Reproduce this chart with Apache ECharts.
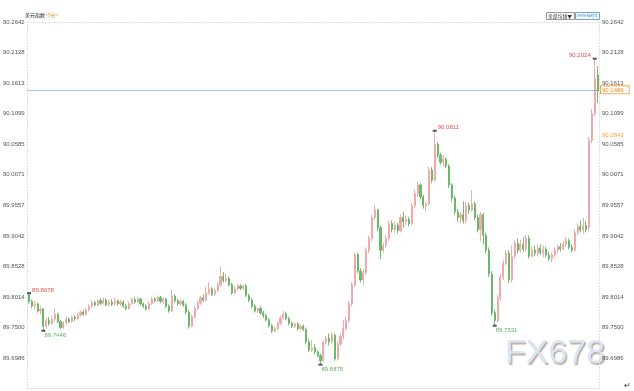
<!DOCTYPE html>
<html>
<head>
<meta charset="utf-8">
<script src="https://cdn.jsdelivr.net/npm/echarts@6/dist/echarts.min.js"></script>
<style>
html,body{margin:0;padding:0;background:#fff;}
#chart{width:634px;height:391px;}
</style>
</head>
<body>
<div id="chart"></div>
<script>
// [open, close, low, high]
const candles = [
[89.805,89.794,89.790,89.8078],[89.794,89.786,89.782,89.797],[89.786,89.790,89.781,89.795],[89.790,89.778,89.775,89.792],
[89.778,89.781,89.772,89.786],[89.781,89.752,89.7446,89.783],[89.752,89.762,89.748,89.766],[89.762,89.757,89.753,89.768],
[89.757,89.764,89.754,89.770],[89.764,89.772,89.760,89.783],[89.772,89.760,89.757,89.775],[89.760,89.750,89.747,89.763],
[89.750,89.758,89.748,89.761],[89.758,89.764,89.755,89.768],[89.764,89.760,89.757,89.767],[89.760,89.767,89.758,89.770],
[89.767,89.765,89.761,89.771],[89.765,89.771,89.763,89.774],[89.771,89.776,89.768,89.779],[89.776,89.772,89.770,89.780],
[89.772,89.780,89.770,89.783],[89.780,89.786,89.777,89.789],[89.786,89.792,89.783,89.796],[89.792,89.788,89.785,89.795],
[89.788,89.795,89.786,89.798],[89.795,89.791,89.788,89.799],[89.791,89.796,89.789,89.800],[89.796,89.788,89.786,89.799],
[89.788,89.793,89.785,89.797],[89.793,89.789,89.786,89.798],[89.789,89.795,89.787,89.800],[89.795,89.790,89.787,89.797],
[89.790,89.793,89.786,89.797],[89.793,89.786,89.783,89.796],[89.786,89.782,89.779,89.789],[89.782,89.790,89.780,89.793],
[89.790,89.797,89.788,89.800],[89.797,89.793,89.790,89.801],[89.793,89.798,89.791,89.802],[89.798,89.790,89.787,89.800],
[89.790,89.786,89.783,89.792],[89.786,89.781,89.778,89.789],[89.781,89.790,89.779,89.794],[89.790,89.798,89.788,89.802],
[89.798,89.795,89.792,89.801],[89.795,89.801,89.793,89.804],[89.801,89.794,89.791,89.803],[89.794,89.798,89.790,89.801],
[89.798,89.786,89.783,89.800],[89.786,89.778,89.775,89.789],[89.778,89.803,89.776,89.814],[89.803,89.795,89.792,89.806],
[89.795,89.790,89.787,89.798],[89.790,89.794,89.786,89.797],[89.794,89.788,89.785,89.797],[89.788,89.776,89.772,89.791],
[89.776,89.752,89.748,89.779],[89.752,89.768,89.750,89.772],[89.768,89.782,89.765,89.786],[89.782,89.791,89.779,89.795],
[89.791,89.800,89.788,89.803],[89.800,89.796,89.793,89.806],[89.796,89.808,89.794,89.818],[89.808,89.815,89.805,89.826],
[89.815,89.806,89.803,89.818],[89.806,89.812,89.803,89.816],[89.812,89.822,89.810,89.826],[89.822,89.836,89.819,89.853],
[89.836,89.829,89.826,89.843],[89.829,89.833,89.826,89.840],[89.833,89.822,89.819,89.836],[89.822,89.808,89.805,89.825],
[89.808,89.815,89.806,89.820],[89.815,89.820,89.812,89.824],[89.820,89.816,89.813,89.823],[89.816,89.820,89.813,89.822],
[89.820,89.804,89.801,89.823],[89.804,89.796,89.793,89.807],[89.796,89.786,89.783,89.799],[89.786,89.778,89.775,89.789],
[89.778,89.782,89.775,89.785],[89.782,89.775,89.772,89.786],[89.775,89.770,89.766,89.778],[89.770,89.763,89.760,89.773],
[89.763,89.753,89.750,89.766],[89.753,89.744,89.741,89.756],[89.744,89.748,89.742,89.752],[89.748,89.757,89.746,89.760],
[89.757,89.766,89.754,89.770],[89.766,89.773,89.763,89.778],[89.773,89.765,89.762,89.776],[89.765,89.757,89.754,89.768],
[89.757,89.752,89.749,89.760],[89.752,89.756,89.749,89.759],[89.756,89.748,89.745,89.759],[89.748,89.752,89.745,89.756],
[89.752,89.747,89.744,89.755],[89.747,89.726,89.722,89.750],[89.726,89.712,89.709,89.730],[89.712,89.716,89.709,89.729],
[89.716,89.709,89.705,89.722],[89.709,89.703,89.700,89.712],[89.703,89.694,89.6875,89.706],[89.694,89.725,89.692,89.728],
[89.725,89.732,89.721,89.736],[89.732,89.726,89.720,89.740],[89.726,89.737,89.722,89.742],[89.737,89.697,89.694,89.740],
[89.697,89.722,89.695,89.728],[89.722,89.735,89.719,89.740],[89.735,89.748,89.730,89.763],[89.748,89.762,89.745,89.768],
[89.762,89.790,89.758,89.795],[89.790,89.822,89.786,89.826],[89.822,89.873,89.818,89.876],[89.873,89.845,89.842,89.876],
[89.845,89.830,89.826,89.850],[89.830,89.842,89.822,89.848],[89.842,89.880,89.838,89.885],[89.880,89.900,89.875,89.905],
[89.900,89.935,89.895,89.940],[89.935,89.948,89.930,89.956],[89.948,89.918,89.912,89.950],[89.918,89.880,89.865,89.921],
[89.880,89.888,89.876,89.893],[89.888,89.900,89.884,89.905],[89.900,89.925,89.896,89.930],[89.925,89.915,89.910,89.930],
[89.915,89.922,89.910,89.928],[89.922,89.913,89.908,89.926],[89.913,89.935,89.910,89.940],[89.935,89.928,89.918,89.945],
[89.928,89.932,89.922,89.938],[89.932,89.925,89.920,89.936],[89.925,89.955,89.922,89.960],[89.955,89.975,89.950,89.982],
[89.975,89.990,89.970,89.995],[89.990,89.970,89.966,89.993],[89.970,89.955,89.950,89.973],[89.955,89.958,89.945,89.962],
[89.958,90.015,89.955,90.020],[90.015,89.998,89.993,90.020],[89.998,90.058,89.995,90.0811],[90.058,90.040,90.035,90.062],
[90.040,90.028,90.024,90.044],[90.028,90.033,90.020,90.040],[90.033,90.022,90.018,90.036],[90.022,89.990,89.985,90.025],
[89.990,89.968,89.962,89.993],[89.968,89.945,89.940,89.972],[89.945,89.935,89.928,89.950],[89.935,89.940,89.925,89.945],
[89.940,89.930,89.925,89.962],[89.930,89.955,89.925,89.962],[89.955,89.948,89.942,89.960],[89.948,89.958,89.945,89.981],
[89.958,89.935,89.930,89.962],[89.935,89.915,89.910,89.940],[89.915,89.940,89.895,89.945],[89.940,89.905,89.890,89.943],
[89.905,89.880,89.875,89.910],[89.880,89.840,89.835,89.885],[89.840,89.775,89.770,89.845],[89.775,89.762,89.7531,89.780],
[89.762,89.800,89.758,89.805],[89.800,89.835,89.795,89.840],[89.835,89.858,89.830,89.863],[89.858,89.875,89.855,89.880],
[89.875,89.830,89.825,89.880],[89.830,89.870,89.826,89.888],[89.870,89.892,89.865,89.897],[89.892,89.880,89.875,89.900],
[89.880,89.890,89.876,89.898],[89.890,89.882,89.878,89.902],[89.882,89.900,89.878,89.906],[89.900,89.870,89.866,89.905],
[89.870,89.880,89.868,89.886],[89.880,89.875,89.870,89.888],[89.875,89.884,89.870,89.890],[89.884,89.876,89.872,89.890],
[89.876,89.882,89.868,89.888],[89.882,89.872,89.868,89.886],[89.872,89.866,89.862,89.878],[89.866,89.872,89.860,89.876],
[89.872,89.880,89.868,89.885],[89.880,89.886,89.875,89.890],[89.886,89.882,89.878,89.892],[89.882,89.890,89.880,89.895],
[89.890,89.896,89.886,89.902],[89.896,89.885,89.882,89.900],[89.885,89.880,89.876,89.890],[89.880,89.910,89.878,89.915],
[89.910,89.920,89.905,89.926],[89.920,89.914,89.910,89.930],[89.914,89.922,89.908,89.935],[89.922,89.915,89.910,89.930],
[89.918,90.065,89.912,90.071],[90.065,90.110,90.060,90.118],[90.110,90.170,90.105,90.2024],[90.175,90.1486,90.128,90.190]
];
const categories = candles.map((_, i) => String(i));
const yTicks = [89.6986, 89.7500, 89.8014, 89.8528, 89.9042, 89.9557, 90.0071, 90.0585, 90.1099, 90.1613, 90.2128, 90.2642];
const yMin = 89.6472, yMax = 90.2642;
const lastPrice = 90.1486;
const refPrice = 90.0843;
// extreme markers: [index, value, kind]
const extremes = [
  [0, 89.8078, 'high'], [5, 89.7446, 'low'], [102, 89.6875, 'low'],
  [142, 90.0811, 'high'], [163, 89.7531, 'low'], [198, 90.2024, 'highLeft']
];

const UP = '#f0a3a3', DOWN = '#62b562';
const RED_TXT = '#e2504c', GREEN_TXT = '#62b05a';
const NUMFONT = '"Liberation Sans Narrow","Arial Narrow","Liberation Sans",sans-serif';

const chart = echarts.init(document.getElementById('chart'), null, {renderer: 'canvas'});

function yAxisCfg(pos) {
  return {
    type: 'value', position: pos, min: yMin, max: yMax, scale: true,
    axisLine: {show: true, lineStyle: {color: '#dcdcdc', type: [1, 2], width: 1}},
    axisTick: {show: false},
    splitLine: {show: false},
    axisLabel: {
      customValues: yTicks, margin: 3, color: '#555', fontSize: 6, fontFamily: NUMFONT,
      formatter: v => v.toFixed(4), showMaxLabel: true, showMinLabel: true
    }
  };
}

const markData = extremes.map(([i, v, kind]) => {
  let pos, align;
  if (kind === 'high') { pos = [5, -2]; align = 'left'; }
  else if (kind === 'highLeft') { pos = [-2, -2]; align = 'right'; }
  else { pos = [3, 6]; align = 'left'; }
  return {
    coord: [i, v], value: v,
    label: {
      show: true, position: pos, align: align, verticalAlign: 'middle',
      formatter: v.toFixed(4), fontSize: 6, fontFamily: NUMFONT,
      color: kind === 'low' ? GREEN_TXT : RED_TXT
    }
  };
});

chart.setOption({
  animation: false,
  backgroundColor: '#fff',
  grid: {left: 25, right: 35, top: 22, bottom: 2.4, containLabel: false},
  xAxis: [
    {type: 'category', data: categories, position: 'bottom', boundaryGap: true,
     axisLine: {show: true, lineStyle: {color: '#e4e4e4'}}, axisTick: {show: false}, axisLabel: {show: false}, splitLine: {show: false}},
    {type: 'category', data: categories, position: 'top', boundaryGap: true,
     axisLine: {show: true, lineStyle: {color: '#dcdcdc', type: [1, 2]}}, axisTick: {show: false}, axisLabel: {show: false}, splitLine: {show: false}}
  ],
  yAxis: [yAxisCfg('left'), yAxisCfg('right')],
  series: [{
    type: 'candlestick', xAxisIndex: 0, yAxisIndex: 0, data: candles,
    barWidth: 1.6,
    itemStyle: {color: UP, color0: DOWN, borderColor: UP, borderColor0: DOWN, borderWidth: 1, opacity: 0.9},
    markPoint: {
      symbol: 'rect', symbolSize: [4, 2], itemStyle: {color: '#555'},
      data: markData
    },
    markLine: {
      symbol: ['none', 'none'], silent: true,
      data: [
        {yAxis: lastPrice, lineStyle: {type: 'dotted', color: '#3b8ee0', width: 1},
         label: {show: true, position: 'end', distance: 2, formatter: lastPrice.toFixed(4), fontSize: 6, fontFamily: NUMFONT,
                 color: '#f08a1c', borderColor: '#f5a64a', borderWidth: 1, backgroundColor: '#fff', padding: [1, 5, 0, 1]}},
        {yAxis: refPrice, lineStyle: {color: 'rgba(0,0,0,0)', width: 0},
         label: {show: true, position: 'end', distance: 2, offset: [0, 4], formatter: refPrice.toFixed(4), fontSize: 6, fontFamily: NUMFONT,
                 color: '#f5a040', padding: [1, 10, 0, 1]}}
      ]
    }
  }],
  graphic: [
    {type: 'text', left: 505, top: 337, z: -10, silent: true,
     style: {text: 'FX678', fontSize: 34, fontFamily: '"Liberation Sans",Arial,sans-serif', fill: '#dae5f3',
             textShadowColor: 'rgba(120,100,80,0.5)', textShadowOffsetX: 1.5, textShadowOffsetY: 1.5, textShadowBlur: 1}},
    {type: 'text', left: 25, top: 13, style: {
      text: '{a|美元指数}{b|<5分>}', rich: {
        a: {fontSize: 5, fill: '#222', fontFamily: '"Noto Sans CJK SC",sans-serif'},
        b: {fontSize: 5, fill: '#f08a1c', fontFamily: '"Noto Sans CJK SC",sans-serif'}
      }}},
    {type: 'rect', shape: {x: 546.5, y: 12.5, width: 28, height: 7}, style: {fill: '#fff', stroke: '#9a9a9a', lineWidth: 1}},
    {type: 'text', left: 548, top: 13.5, style: {text: '全部均线▼', fontSize: 4.8, fill: '#333', fontFamily: '"Noto Sans CJK SC",sans-serif'}},
    {type: 'rect', shape: {x: 575.5, y: 12.5, width: 24, height: 7}, style: {fill: '#fff', stroke: '#6aa6e6', lineWidth: 1}},
    {type: 'text', left: 576.5, top: 13.5, style: {text: '分时K线趋势', fontSize: 3.8, fill: '#2f7fd6', fontFamily: '"Noto Sans CJK SC",sans-serif'}},
    {type: 'rect', shape: {x: 621, y: 87, width: 2, height: 4}, style: {fill: '#f5a040'}},
    {type: 'text', left: 624, top: 382, style: {text: '↵', fontSize: 8, fill: '#333'}}
  ]
});
</script>
</body>
</html>
